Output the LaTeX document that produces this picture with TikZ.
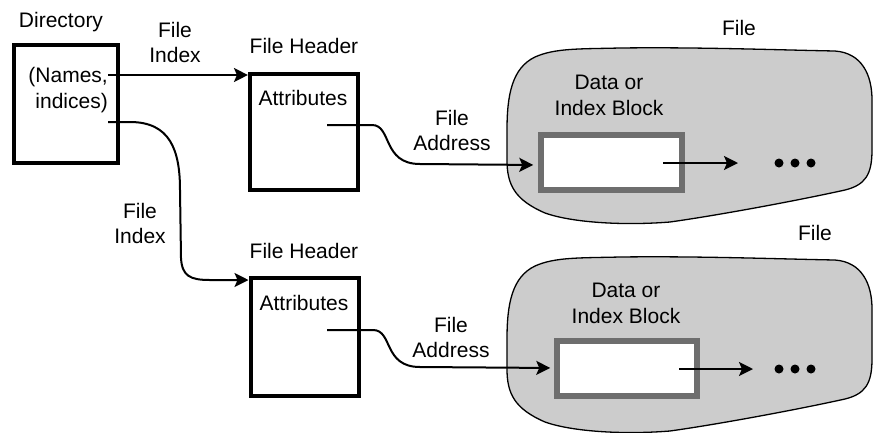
\documentclass[tikz,border=0pt]{standalone}
\usepackage{fontspec}
\setmainfont{Liberation Sans}
\usetikzlibrary{arrows.meta}
\definecolor{blobgray}{HTML}{CCCCCC}
\definecolor{blockgray}{HTML}{6E6E6E}

\begin{document}
\begin{tikzpicture}[x=1pt,y=-1pt,
  font=\fontsize{21}{25.5}\selectfont,
  thickbox/.style={draw, line width=4pt, rectangle, inner sep=0pt},
  blockbox/.style={draw=blockgray, fill=white, line width=6.5pt, rectangle,
                   inner sep=0pt, minimum width=141pt, minimum height=55pt},
  conn/.style={line width=2pt, -{Stealth[length=14pt,width=14pt,inset=3pt]}},
  lbl/.style={inner sep=0pt, align=center},
  txt/.style={inner sep=0pt, anchor=base},
  blob/.style={fill=blobgray, draw=black, line width=1.3pt},
  dot/.style={circle, fill=black, inner sep=0pt, minimum size=9pt},
  fileblob/.pic={
    \path[blob] (507,130) .. controls (507,95) and (512,68) .. (535,57)
      .. controls (555,48) and (580,49) .. (620,48)
      .. controls (700,47) and (780,50) .. (835,51)
      .. controls (862,53) and (872,75) .. (872,100)
      -- (872,150)
      .. controls (872,175) and (865,185) .. (845,190)
      .. controls (800,200) and (720,215) .. (670,222)
      .. controls (620,226) and (570,222) .. (545,213)
      .. controls (515,200) and (507,185) .. (507,160) -- cycle;
  }]
\useasboundingbox (0,0) rectangle (873,432);

% file outlines
\pic at (0,0) {fileblob};
\pic at (0,209) {fileblob};

% boxes
\node[thickbox, minimum width=104pt, minimum height=118pt] (dir) at (65.6,104) {};
\node[thickbox, minimum width=108.5pt, minimum height=116pt] (hdr1) at (304.2,131.5) {};
\node[thickbox, minimum width=108pt, minimum height=118pt] (hdr2) at (304.5,336.5) {};
\node[blockbox] (blk1) at (611.5,162.5) {};
\node[blockbox, minimum width=140pt] (blk2) at (627,368.5) {};

% labels
\node[txt] (dirlbl) at (61,27) {Directory};
\node[lbl, align=right, anchor=east] (dirtxt) at (108,90.3) {(Names,\\indices)};
\node[lbl] (idx1) at (175,42.3) {File\\Index};
\node[lbl] (idx2) at (140,223.3) {File\\Index};
\node[txt] (h1lbl) at (304,53) {File Header};
\node[txt] (h2lbl) at (304,258) {File Header};
\node[txt] (attr1) at (303,105) {Attributes};
\node[txt] (attr2) at (304,310) {Attributes};
\node[lbl] (addr1) at (452,130.3) {File\\Address};
\node[lbl] (addr2) at (451,337.3) {File\\Address};
\node[lbl] (blk1lbl) at (609,95.3) {Data or\\Index Block};
\node[lbl] (blk2lbl) at (626,303.3) {Data or\\Index Block};
\node[txt] (file1) at (739,35) {File};
\node[txt] (file2) at (815,240) {File};

% continuation dots
\foreach \i/\x in {1/779,2/795,3/811} {
  \node[dot] (dotA\i) at (\x,163) {};
  \node[dot] (dotB\i) at (\x,369) {};
}

% connector end points
\coordinate (dirA) at (108,75);
\coordinate (dirB) at (108,122);
\coordinate (attrA) at (327,125);
\coordinate (attrB) at (327,330);
\coordinate (blkA) at (663,163);
\coordinate (blkB) at (679,369);
\coordinate (nxt1) at (738,163);
\coordinate (nxt2) at (753,369);
\coordinate (h2in) at (0,280);
\coordinate (b1in) at (0,165);
\coordinate (b2in) at (0,368);

% connectors
\draw[conn] (dirA) -- (dirA -| hdr1.west);
\draw[conn] (dirB) -- (130,122) .. controls (170,122) and (180,150) .. (180,190)
  -- (181,258) .. controls (182,276) and (190,280) .. (210,280) -- (h2in -| hdr2.west);
\draw[conn, shorten >=4.5pt] (attrA) -- (372,125) .. controls (392,125) and (382,164) .. (420,164)
  -- (b1in -| blk1.west);
\draw[conn, shorten >=3.5pt] (attrB) -- (373,330) .. controls (393,330) and (383,367) .. (420,367)
  -- (b2in -| blk2.west);
\draw[conn] (blkA) -- (nxt1);
\draw[conn] (blkB) -- (nxt2);
\end{tikzpicture}
\end{document}
